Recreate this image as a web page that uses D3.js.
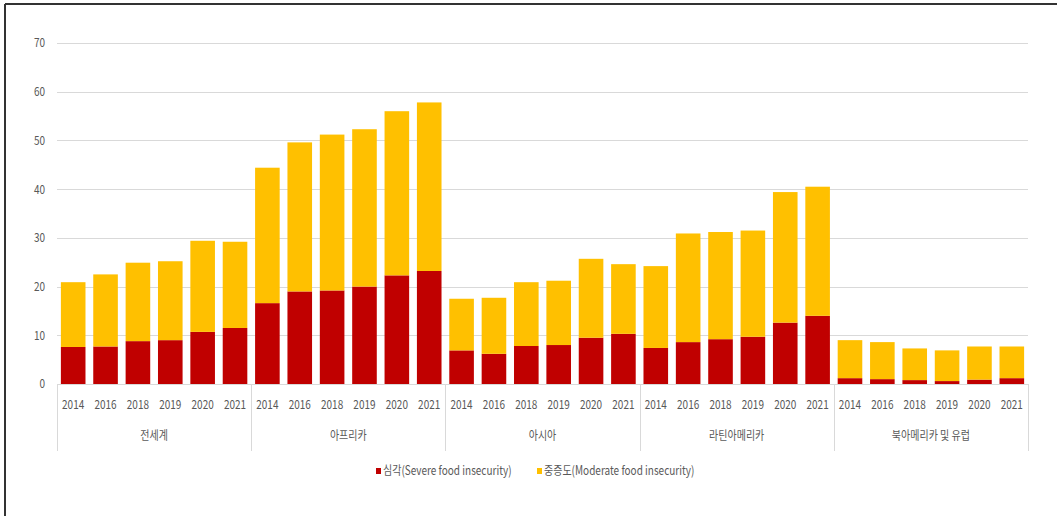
<!DOCTYPE html>
<meta charset="utf-8">

<style>
  body {
    margin: 0;
    background: #fff;
  }
  svg {
    display: block;
    font-family: "Noto Sans CJK KR", "Noto Sans", sans-serif;
  }
  .grid line {
    stroke: #d9d9d9;
    stroke-width: 1px;
  }
  .lbl {
    fill: #595959;
  }
  .sep {
    stroke: #d9d9d9;
    stroke-width: 1px;
  }
</style>

<body>
  <svg width="1057" height="516"></svg>

  <script src="https://cdn.jsdelivr.net/npm/d3@7"></script>
  <script>
    // data
    var regions = ["전세계", "아프리카", "아시아", "라틴아메리카", "북아메리카 및 유럽"];
    var years = ["2014", "2016", "2018", "2019", "2020", "2021"];
    var severe = [
      [7.6, 7.7, 8.8, 9.0, 10.7, 11.5],
      [16.6, 19.0, 19.2, 20.0, 22.3, 23.2],
      [6.9, 6.2, 7.8, 8.0, 9.5, 10.3],
      [7.4, 8.6, 9.2, 9.7, 12.6, 14.0],
      [1.2, 1.0, 0.8, 0.6, 0.9, 1.2]
    ];
    var moderate = [
      [13.3, 14.8, 16.1, 16.2, 18.7, 17.7],
      [27.8, 30.6, 32.0, 32.3, 33.7, 34.6],
      [10.6, 11.5, 13.1, 13.2, 16.2, 14.3],
      [16.8, 22.3, 22.0, 21.8, 26.8, 26.5],
      [7.8, 7.6, 6.5, 6.3, 6.8, 6.5]
    ];
    var yTicks = [0, 10, 20, 30, 40, 50, 60, 70];
    var seriesNames = ["심각(Severe food insecurity)", "중증도(Moderate food insecurity)"];
    var colors = ["#c00000", "#ffc000"];

    var svg = d3.select("svg");

    // squeeze text horizontally, the source font is narrow
    function squeeze(sel, k) {
      sel.each(function() {
        var w = this.getComputedTextLength();
        d3.select(this)
          .attr("textLength", w * k)
          .attr("lengthAdjust", "spacingAndGlyphs");
      });
    }

    // frame
    svg.append("line").attr("x1", 5).attr("x2", 1057).attr("y1", 4).attr("y2", 4)
      .attr("stroke", "#333").attr("stroke-width", 2);
    svg.append("line").attr("x1", 5).attr("x2", 5).attr("y1", 4).attr("y2", 516)
      .attr("stroke", "#333").attr("stroke-width", 2);

    var plotLeft = 57, plotRight = 1028, plotTop = 43, base = 384;

    var y = d3.scaleLinear().domain([0, 70]).range([base, plotTop]);
    var x0 = d3.scaleBand().domain(regions).range([plotLeft, plotRight]);
    var x1 = d3.scaleBand().domain(years).range([0, x0.bandwidth()])
      .paddingInner(0.24).paddingOuter(0.12);

    // gridlines
    svg.append("g").attr("class", "grid")
      .selectAll("line").data(yTicks).join("line")
        .attr("x1", plotLeft).attr("x2", plotRight)
        .attr("y1", d => Math.round(y(d)) + 0.5)
        .attr("y2", d => Math.round(y(d)) + 0.5);

    // y labels
    svg.append("g").selectAll("text").data(yTicks).join("text")
      .attr("class", "lbl ylbl")
      .attr("x", 45)
      .attr("y", d => y(d))
      .attr("dy", "0.35em")
      .attr("text-anchor", "end")
      .style("font-size", "12.5px")
      .text(d => d)
      .call(squeeze, 0.8);

    // bars
    var groups = svg.append("g").selectAll("g").data(regions).join("g")
      .attr("transform", d => "translate(" + x0(d) + ",0)");

    groups.each(function(r, gi) {
      var g = d3.select(this);
      var rows = years.map((yr, j) => ({ yr: yr, s: severe[gi][j], m: moderate[gi][j] }));
      g.selectAll("rect.sev").data(rows).join("rect")
        .attr("class", "sev")
        .attr("x", d => x1(d.yr))
        .attr("width", x1.bandwidth())
        .attr("y", d => y(d.s))
        .attr("height", d => base - y(d.s))
        .attr("fill", colors[0]);
      g.selectAll("rect.mod").data(rows).join("rect")
        .attr("class", "mod")
        .attr("x", d => x1(d.yr))
        .attr("width", x1.bandwidth())
        .attr("y", d => y(d.s + d.m))
        .attr("height", d => y(d.s) - y(d.s + d.m))
        .attr("fill", colors[1]);

      // year labels
      g.selectAll("text.yr").data(years).join("text")
        .attr("class", "lbl yr")
        .attr("x", d => x1(d) + x1.bandwidth() / 2)
        .attr("y", 405)
        .attr("dy", "0.35em")
        .attr("text-anchor", "middle")
        .style("font-size", "12.5px")
        .text(d => d)
        .call(squeeze, 0.8);

      // region label
      g.append("text")
        .attr("class", "lbl")
        .attr("x", x0.bandwidth() / 2)
        .attr("y", 436)
        .attr("dy", "0.35em")
        .attr("text-anchor", "middle")
        .style("font-size", "12.5px")
        .text(r)
        .call(squeeze, 0.8);
    });

    // axis line and group separators
    svg.append("line").attr("class", "sep")
      .attr("x1", plotLeft).attr("x2", plotRight).attr("y1", base + 0.5).attr("y2", base + 0.5);
    svg.append("g").selectAll("line")
      .data(regions.map(r => x0(r)).concat([plotRight]))
      .join("line")
        .attr("class", "sep")
        .attr("x1", d => Math.round(d) + 0.5).attr("x2", d => Math.round(d) + 0.5)
        .attr("y1", base).attr("y2", 451);

    // legend
    var legendX = [376, 537];
    var legend = svg.append("g").selectAll("g").data(seriesNames).join("g")
      .attr("transform", (d, i) => "translate(" + legendX[i] + ",468)");
    legend.append("rect")
      .attr("width", 5).attr("height", 6)
      .attr("fill", (d, i) => colors[i]);
    legend.append("text")
      .attr("class", "lbl")
      .attr("x", 7)
      .attr("y", 3)
      .attr("dy", "0.35em")
      .style("font-size", "12.5px")
      .text(d => d)
      .call(squeeze, 0.8);
  </script>
</body>
